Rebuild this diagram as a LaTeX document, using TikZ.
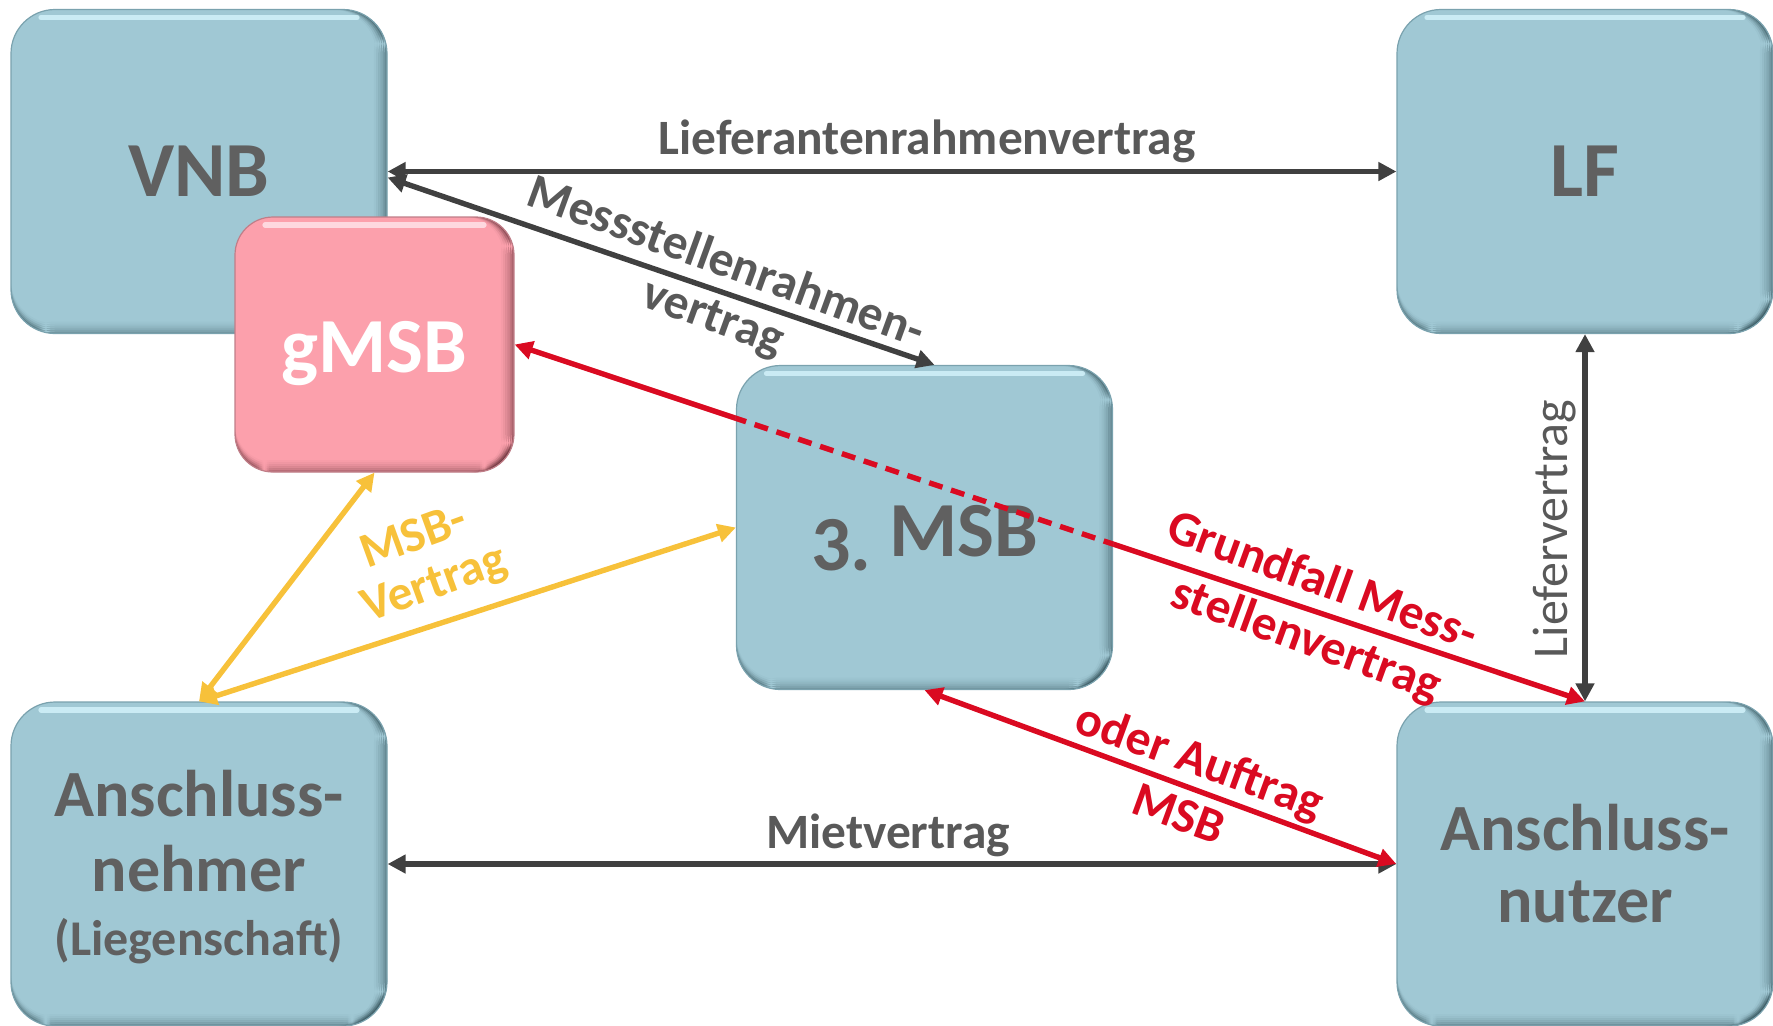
\documentclass[tikz,border=0pt]{standalone}
\usepackage{fontspec}
\setmainfont{Carlito}
\usetikzlibrary{arrows.meta}
\definecolor{boxblue}{HTML}{A0C8D4}
\definecolor{boxedge}{HTML}{7AA2AE}
\definecolor{boxdark}{HTML}{2F4D55}
\definecolor{boxlight}{HTML}{D2F2FA}
\definecolor{pinkfill}{HTML}{FCA0AC}
\definecolor{pinkedge}{HTML}{C07E88}
\definecolor{pinkdark}{HTML}{5E2A32}
\definecolor{pinklight}{HTML}{FFE2E8}
\definecolor{txtgray}{HTML}{606060}
\definecolor{lblgray}{HTML}{595959}
\definecolor{arrgray}{HTML}{404040}
\definecolor{cred}{HTML}{DA0A21}
\definecolor{cyellow}{HTML}{F7C13A}
\tikzset{
  bevel/.style n args={4}{fill=#1, draw=#2, line width=0.6pt,
    path picture={
      \foreach \i/\o in {0/0.5,1/0.36,2/0.25,3/0.16,4/0.09,5/0.04}{
        \fill[#3, opacity=\o] ([xshift=-\i*1.1pt-1.1pt]path picture bounding box.north east) rectangle ([xshift=-\i*1.1pt]path picture bounding box.south east);
        \fill[#3, opacity=\o*0.8] ([yshift=\i*1.0pt]path picture bounding box.south west) rectangle ([yshift=\i*1.0pt+1.0pt]path picture bounding box.south east);
      }
      \draw[#4, line width=2.6pt, line cap=round, opacity=0.85] ([xshift=15pt,yshift=-4pt]path picture bounding box.north west) -- ([xshift=-15pt,yshift=-4pt]path picture bounding box.north east);
    }},
  box/.style={rounded corners=22pt, inner sep=0pt, align=center, text=txtgray,
    font=\bfseries\fontsize{39}{44}\selectfont, minimum width=188pt, minimum height=162pt,
    bevel={boxblue}{boxedge}{boxdark}{boxlight}},
  pinkbox/.style={rounded corners=19pt, inner sep=0pt, align=center, text=white,
    font=\bfseries\fontsize{39}{44}\selectfont, minimum width=139.5pt, minimum height=127.5pt,
    bevel={pinkfill}{pinkedge}{pinkdark}{pinklight}},
  tipboth/.style={{Triangle[length=9pt,width=9pt]}-{Triangle[length=9pt,width=9pt]}},
  gconn/.style={draw=arrgray, line width=2.7pt, tipboth},
  rconn/.style={draw=cred, line width=2.7pt, tipboth},
  yconn/.style={draw=cyellow, line width=2.7pt, tipboth},
  lbl/.style={font=\bfseries\fontsize{24.7}{28}\selectfont, text=lblgray, inner sep=0pt},
}
\begin{document}
\begin{tikzpicture}[x=0.5pt,y=-0.5pt]
\useasboundingbox (0,0) rectangle (1773,1025);
\node[box] (vnb) at (199,171.5) {VNB};
\node[box] (lf) at (1585,171.5) {LF};
\node[pinkbox] (gmsb) at (374.5,344.5) {\raisebox{-4.5pt}[\height][\depth]{gMSB}};
\node[box] (an) at (199,864) {\raisebox{-3.4pt}[\height][\depth]{\fontsize{33}{37.5}\selectfont\begin{tabular}{@{}c@{}}Anschluss-\\nehmer\\[-5.8pt]\fontsize{25}{30}\selectfont (Liegenschaft)\end{tabular}}};
\node[box, font=\bfseries\fontsize{33}{36}\selectfont] (anu) at (1585,864) {Anschluss-\\nutzer};
\draw[rconn] (gmsb.east) -- (anu.north);
\node[box] (msb) at (924.5,527.5) {\raisebox{-5.5pt}[\height][\depth]{\raisebox{-0.18em}{3.} MSB}};
\begin{scope}
  \clip[rounded corners=22pt] (msb.south west) rectangle (msb.north east);
  \draw[draw=cred, line width=2.7pt, dash pattern=on 7pt off 4.5pt] (gmsb.east) -- (anu.north);
\end{scope}
\draw[gconn] (vnb.east) -- (lf.west);
\draw[gconn] ([yshift=-3pt]vnb.east) -- ([xshift=5pt]msb.north);
\draw[gconn] (lf.south) -- (anu.north);
\draw[gconn] (an.east) -- (anu.west);
\draw[rconn] (msb.south) -- (anu.west);
\draw[yconn] (an.north) -- (gmsb.south);
\draw[yconn] (an.north) -- (msb.west);
\node[lbl] (l1) at (927,141) {Lieferantenrahmenvertrag};
\node[lbl, rotate=-20] (l2a) at (727,260) {Messstellenrahmen-};
\node[lbl, rotate=-20] (l2b) at (712,320) {vertrag};
\node[lbl, text=cred, rotate=-20] (l3a) at (1323,579) {Grundfall Mess-};
\node[lbl, text=cred, rotate=-20] (l3b) at (1306,641) {stellenvertrag};
\node[lbl, text=cred, rotate=-20] (l4a) at (1199,763) {oder Auftrag};
\node[lbl, text=cred, rotate=-20] (l4b) at (1179,814) {MSB};
\node[lbl] (l5) at (888,835) {Mietvertrag};
\node[lbl, font=\mdseries\fontsize{25}{28}\selectfont, rotate=90] (l6) at (1555,529) {Liefervertrag};
\node[lbl, text=cyellow, rotate=20] (l7a) at (413,535) {MSB-};
\node[lbl, text=cyellow, rotate=20] (l7b) at (435,586) {Vertrag};
\end{tikzpicture}
\end{document}
